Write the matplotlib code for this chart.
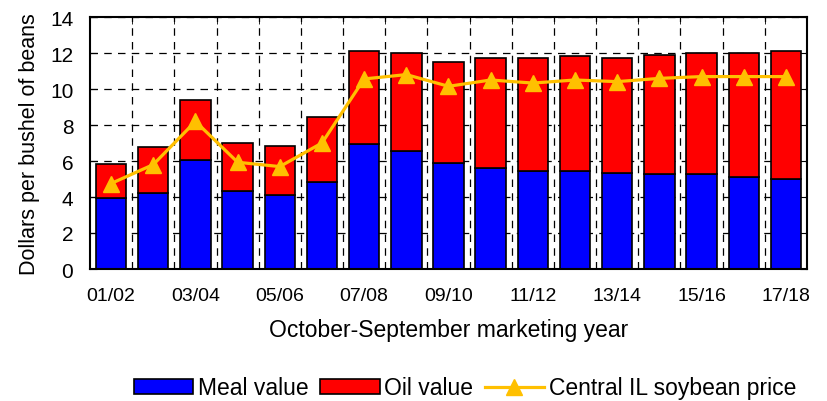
import numpy as np
import matplotlib.pyplot as plt
from matplotlib.ticker import FixedLocator

plt.rcParams['font.family'] = ['Liberation Sans', 'DejaVu Sans']

years = ['01/02', '02/03', '03/04', '04/05', '05/06', '06/07', '07/08', '08/09', '09/10',
         '10/11', '11/12', '12/13', '13/14', '14/15', '15/16', '16/17', '17/18']
meal = [3.94, 4.22, 6.06, 4.31, 4.13, 4.85, 6.93, 6.57, 5.89,
        5.63, 5.43, 5.43, 5.35, 5.28, 5.28, 5.09, 5.00]
total = [5.81, 6.76, 9.39, 7.02, 6.85, 8.43, 12.09, 12.00, 11.48,
         11.72, 11.72, 11.81, 11.72, 11.91, 12.00, 12.00, 12.09]
oil = [t - m for t, m in zip(total, meal)]
price = [4.75, 5.80, 8.20, 5.93, 5.69, 7.00, 10.56, 10.80, 10.15,
         10.50, 10.33, 10.50, 10.41, 10.59, 10.69, 10.69, 10.69]

x = np.arange(len(years))

fig = plt.figure(figsize=(8.28, 4.02), dpi=100)
ax = fig.add_axes([90 / 828, 1 - 270 / 402, 717 / 828, 252 / 402])

b1 = ax.bar(x, meal, width=0.72, color='#0000ff', edgecolor='black', linewidth=1.2,
            label='Meal value', zorder=2)
b2 = ax.bar(x, oil, width=0.72, bottom=meal, color='#ff0000', edgecolor='black', linewidth=1.2,
            label='Oil value', zorder=2)
l1, = ax.plot(x, price, color='#ffc000', linewidth=2.3, marker='^', markersize=12,
              label='Central IL soybean price', zorder=3)

ax.set_xlim(-0.5, len(years) - 0.5)
ax.set_ylim(0, 14)
ax.set_yticks(range(0, 15, 2))
ax.set_xticks(x[::2])
ax.set_xticklabels(years[::2])
ax.xaxis.set_minor_locator(FixedLocator(np.arange(0.5, len(years) - 1, 1)))

ax.tick_params(axis='x', which='major', length=0, pad=13, labelsize=14)
ax.tick_params(axis='x', which='minor', direction='in', length=5, top=True, bottom=True)
ax.tick_params(axis='y', direction='in', length=5, left=True, right=True, labelsize=15, pad=12)

ax.grid(axis='y', which='major', linestyle=(0, (6, 5)), color='black', linewidth=0.9, zorder=0)
ax.grid(axis='x', which='minor', linestyle=(0, (6, 5)), color='black', linewidth=0.9, zorder=0)
ax.set_axisbelow(True)
for s in ax.spines.values():
    s.set_linewidth(1.5)

ax.set_ylabel('Dollars per bushel of beans', fontsize=15.5, labelpad=7)
ax.set_xlabel('October-September marketing year', fontsize=16.5, labelpad=10)

fig.legend([b1, b2, l1], ['Meal value', 'Oil value', 'Central IL soybean price'],
           loc='center', bbox_to_anchor=(465 / 828, 1 - 389 / 402), ncol=3, frameon=False,
           fontsize=16.5, handlelength=2.6, handleheight=0.6, columnspacing=0.5,
           handletextpad=0.2, borderpad=0)

fig.savefig('out.png', dpi=100)
